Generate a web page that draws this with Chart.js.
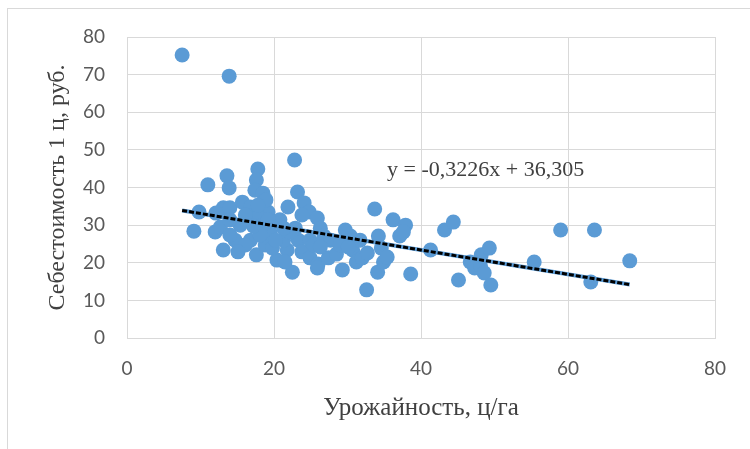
<!DOCTYPE html>
<html>
<head>
<meta charset="utf-8">
<script src="https://cdn.jsdelivr.net/npm/chart.js@4/dist/chart.umd.min.js"></script>
<style>
  html, body { margin: 0; padding: 0; background: #fff; }
  #wrap { width: 750px; height: 449px; position: relative; }
</style>
</head>
<body>
<div id="wrap"><canvas id="scatterChart"></canvas></div>
<script>
// урожайность, ц/га
var yieldX = [7.5, 13.9, 22.8, 9.8, 9.1, 11.0, 13.6, 13.9, 17.8, 17.6,
  17.4, 18.5, 13.1, 12.0, 13.1, 14.0, 15.7, 16.8, 19.2, 17.8,
  12.7, 14.7, 16.8, 17.6, 19.5, 20.4, 21.8, 20.8, 21.9, 23.2,
  24.1, 24.8, 25.9, 26.3, 26.8, 23.3, 23.8, 24.9, 26.0, 22.5,
  25.9, 27.4, 28.5, 29.3, 30.4, 30.7, 31.2, 32.0, 32.6, 33.7,
  34.2, 34.6, 34.1, 34.9, 36.2, 37.1, 37.9, 38.6, 41.3, 43.2,
  44.4, 45.1, 46.7, 47.3, 48.1, 48.2, 48.6, 49.3, 49.5, 55.4,
  59.0, 63.6, 63.1, 68.4, 15.4, 16.1, 18.4, 18.8, 19.8, 21.3,
  22.2, 22.9, 18.1, 16.1, 15.1, 18.9, 17.8, 23.8, 24.9, 27.7,
  29.0, 29.7, 21.5, 20.2, 17.2, 14.0, 12.1, 19.2, 21.3, 25.4,
  31.7, 14.0, 32.7, 35.4, 37.6, 30.1, 26.3];
// себестоимость 1 ц, руб.
var costY = [75.2, 69.6, 47.3, 33.5, 28.4, 40.7, 43.1, 39.9, 44.9, 42.0,
  39.3, 38.5, 23.4, 28.2, 34.6, 34.6, 36.1, 34.8, 33.5, 32.2,
  29.5, 26.0, 26.0, 22.1, 27.9, 20.7, 23.4, 31.4, 34.8, 38.8,
  35.9, 33.5, 31.9, 29.2, 27.1, 26.0, 22.9, 21.3, 19.7, 17.5,
  18.6, 21.3, 22.3, 18.1, 27.1, 23.4, 20.2, 21.3, 12.8, 34.3,
  27.1, 23.9, 17.5, 20.2, 31.4, 27.1, 30.0, 17.0, 23.4, 28.7,
  30.8, 15.4, 20.2, 18.6, 19.1, 22.1, 17.3, 23.9, 14.1, 20.2,
  28.7, 28.7, 14.9, 20.5, 30.0, 32.7, 30.0, 24.7, 23.9, 26.0,
  28.2, 29.2, 27.4, 24.7, 22.9, 36.7, 35.3, 32.7, 26.0, 26.0,
  24.7, 28.7, 20.2, 26.0, 29.8, 31.4, 33.2, 31.4, 29.2, 24.7,
  26.0, 27.4, 22.6, 21.5, 28.2, 24.2, 24.2];

// линия тренда (концы)
var trendX = [7.5, 68.4];
var trendY = [33.9, 14.2];
var trendLabel = 'y = -0,3226x + 36,305';
var trendLabelPos = [48.8, 44.7];

var xTicks = [0, 20, 40, 60, 80];
var yTicks = [0, 10, 20, 30, 40, 50, 60, 70, 80];

var points = yieldX.map(function(v, i) { return {x: v, y: costY[i]}; });
var trendPts = trendX.map(function(v, i) { return {x: v, y: trendY[i]}; });

var frameAndLabel = {
  id: 'frameAndLabel',
  beforeDraw: function(chart) {
    var ctx = chart.ctx;
    ctx.save();
    ctx.fillStyle = '#fff';
    ctx.fillRect(0, 0, chart.width, chart.height);
    ctx.strokeStyle = '#d9d9d9';
    ctx.lineWidth = 1;
    ctx.strokeRect(7.5, 8.5, 800, 500);
    ctx.restore();
  },
  afterDatasetsDraw: function(chart) {
    var ctx = chart.ctx;
    var px = chart.scales.x.getPixelForValue(trendLabelPos[0]);
    var py = chart.scales.y.getPixelForValue(trendLabelPos[1]);
    ctx.save();
    ctx.font = '22px "Liberation Serif", "Times New Roman", serif';
    ctx.fillStyle = '#404040';
    ctx.textAlign = 'center';
    ctx.textBaseline = 'middle';
    ctx.fillText(trendLabel, px, py);
    ctx.restore();
  }
};

new Chart(document.getElementById('scatterChart'), {
  type: 'scatter',
  data: {
    datasets: [
      {
        label: 'trend-black',
        type: 'line',
        data: trendPts,
        borderColor: '#000',
        borderWidth: 3,
        borderDash: [5, 2],
        pointRadius: 0,
        fill: false,
        order: 0
      },
      {
        label: 'trend-blue',
        type: 'line',
        data: trendPts,
        borderColor: '#5B9BD5',
        borderWidth: 4,
        pointRadius: 0,
        fill: false,
        order: 1
      },
      {
        label: 'data',
        data: points,
        backgroundColor: '#5B9BD5',
        borderWidth: 0,
        pointRadius: 7.5,
        pointHoverRadius: 7.5,
        order: 2
      }
    ]
  },
  options: {
    responsive: true,
    maintainAspectRatio: false,
    animation: false,
    devicePixelRatio: 1,
    layout: { padding: { left: 0, top: 37, right: 35, bottom: 0 } },
    plugins: {
      legend: { display: false },
      tooltip: { enabled: false }
    },
    scales: {
      x: {
        type: 'linear',
        min: 0, max: 80,
        afterBuildTicks: function(axis) { axis.ticks = xTicks.map(function(v) { return {value: v}; }); },
        afterFit: function(axis) { axis.height = 111; },
        grid: { color: '#d9d9d9', lineWidth: 1, drawTicks: false },
        border: { color: '#d9d9d9' },
        ticks: { color: '#595959', padding: 19, font: { family: 'Lato, "Open Sans", sans-serif', size: 19 } },
        title: {
          display: true,
          text: 'Урожайность, ц/га',
          color: '#404040',
          font: { family: '"Liberation Serif", "Times New Roman", serif', size: 25 },
          padding: { top: 26, bottom: 26 }
        }
      },
      y: {
        type: 'linear',
        min: 0, max: 80,
        afterBuildTicks: function(axis) { axis.ticks = yTicks.map(function(v) { return {value: v}; }); },
        afterFit: function(axis) { axis.width = 127; },
        grid: { color: '#d9d9d9', lineWidth: 1, drawTicks: false },
        border: { color: '#d9d9d9' },
        ticks: { color: '#595959', padding: 22, font: { family: 'Lato, "Open Sans", sans-serif', size: 19 } },
        title: {
          display: true,
          text: 'Себестоимость 1 ц, руб.',
          color: '#404040',
          font: { family: '"Liberation Serif", "Times New Roman", serif', size: 24 },
          padding: { top: 43, bottom: 43 }
        }
      }
    }
  },
  plugins: [frameAndLabel]
});
</script>
</body>
</html>
